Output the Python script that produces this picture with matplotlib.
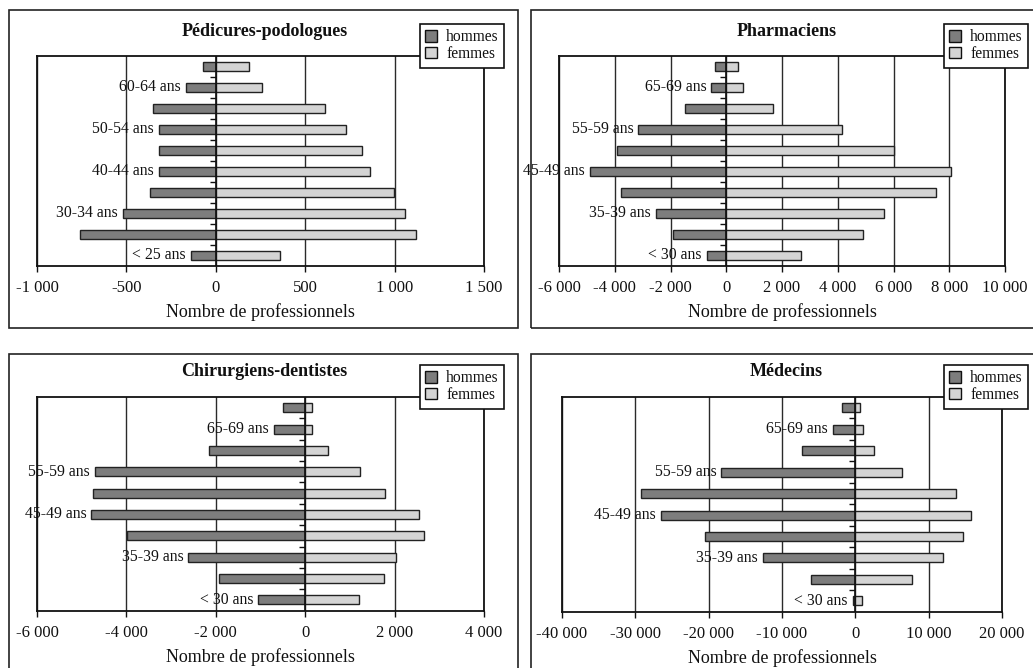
import matplotlib
matplotlib.use("Agg")
import matplotlib.pyplot as plt
from matplotlib.patches import Rectangle, Patch
from matplotlib.ticker import FuncFormatter
import numpy as np

plt.rcParams['font.family'] = ['Liberation Serif', 'DejaVu Serif']

# ---------------- data (bottom -> top) ----------------
pod_categories = ["< 25 ans", "25-29 ans", "30-34 ans", "35-39 ans", "40-44 ans",
                  "45-49 ans", "50-54 ans", "55-59 ans", "60-64 ans", "65 ans et +"]
pod_hommes = [141, 761, 521, 367, 318, 318, 318, 353, 169, 70]
pod_femmes = [357, 1120, 1058, 996, 861, 820, 727, 609, 257, 188]

other_categories = ["< 30 ans", "30-34 ans", "35-39 ans", "40-44 ans", "45-49 ans",
                    "50-54 ans", "55-59 ans", "60-64 ans", "65-69 ans", "70 ans et +"]
pha_hommes = [707, 1904, 2527, 3784, 4898, 3916, 3150, 1473, 539, 407]
pha_femmes = [2683, 4922, 5677, 7509, 8072, 6012, 4168, 1665, 587, 407]

den_hommes = [1056, 1925, 2614, 3985, 4787, 4757, 4704, 2142, 704, 502]
den_femmes = [1206, 1760, 2037, 2652, 2539, 1790, 1228, 509, 150, 150]

med_hommes = [362, 6063, 12579, 20498, 26516, 29231, 18281, 7240, 3032, 1855]
med_femmes = [860, 7738, 11946, 14615, 15792, 13756, 6380, 2534, 995, 679]

titles = ["Pédicures-podologues", "Pharmaciens", "Chirurgiens-dentistes", "Médecins"]
xlabel = "Nombre de professionnels"
legend_labels = ["hommes", "femmes"]

pod_ticks = [-1000, -500, 0, 500, 1000, 1500]
pha_ticks = [-6000, -4000, -2000, 0, 2000, 4000, 6000, 8000, 10000]
den_ticks = [-6000, -4000, -2000, 0, 2000, 4000]
med_ticks = [-40000, -30000, -20000, -10000, 0, 10000, 20000]

# ---------------- layout ----------------
W, H = 1033, 668
fig = plt.figure(figsize=(W / 100, H / 100), dpi=100)

def fx(x):
    return x / W

def fy(y):
    return 1 - y / H

C_MEN = '#7d7d7d'
C_WOMEN = '#d4d4d4'
C_EDGE = '#222222'
C_TEXT = '#111111'

panels = [
    dict(cats=pod_categories, men=pod_hommes, women=pod_femmes, ticks=pod_ticks,
         box=(37, 56, 484, 266), frame=(9, 10, 518, 328), title=titles[0]),
    dict(cats=other_categories, men=pha_hommes, women=pha_femmes, ticks=pha_ticks,
         box=(559, 56, 1005, 266), frame=(531, 10, 1040, 328), title=titles[1]),
    dict(cats=other_categories, men=den_hommes, women=den_femmes, ticks=den_ticks,
         box=(37, 397, 484, 611), frame=(9, 354, 518, 680), title=titles[2]),
    dict(cats=other_categories, men=med_hommes, women=med_femmes, ticks=med_ticks,
         box=(562, 397, 1002, 612), frame=(531, 354, 1040, 680), title=titles[3]),
]

def fmt(v, pos=None):
    s = "{:,}".format(int(abs(v))).replace(",", " ")
    return ("-" if v < 0 else "") + s

for p in panels:
    l, t, r, b = p['box']
    ax = fig.add_axes([fx(l), fy(b), fx(r - l), (b - t) / H])
    # outer frame
    fl, ft, fr, fb = p['frame']
    fig.patches.append(Rectangle((fx(fl), fy(fb)), fx(fr - fl), (fb - ft) / H,
                                 transform=fig.transFigure, fill=False,
                                 edgecolor='#222222', linewidth=1.2, zorder=0))
    n = len(p['cats'])
    y = np.arange(n)
    men = np.array(p['men'])
    women = np.array(p['women'])
    ax.barh(y, -men, height=0.42, color=C_MEN, edgecolor=C_EDGE, linewidth=1.0, zorder=3)
    ax.barh(y, women, height=0.42, color=C_WOMEN, edgecolor=C_EDGE, linewidth=1.0, zorder=3)
    ax.set_xlim(p['ticks'][0], p['ticks'][-1])
    ax.set_ylim(-0.52, n - 0.5)
    ax.set_xticks(p['ticks'])
    ax.xaxis.set_major_formatter(FuncFormatter(fmt))
    ax.set_yticks([])
    ax.grid(axis='x', color='#2a2a2a', linewidth=1.0, zorder=1)
    ax.set_axisbelow(True)
    ax.tick_params(axis='x', direction='out', length=4, width=1.0, pad=6,
                   labelsize=12, colors=C_TEXT)
    for s in ax.spines.values():
        s.set_color('#111111')
        s.set_linewidth(1.3)
    # zero axis with category ticks
    ax.axvline(0, color='#111111', linewidth=1.2, zorder=4)
    ax.plot(np.zeros(n - 1), np.arange(n - 1) + 0.5, linestyle='none', marker=0,
            markersize=4, color='#111111', markeredgewidth=1.0, zorder=4)
    # category labels (every other), placed left of the men's bar
    for i in range(0, n, 2):
        ax.annotate(p['cats'][i], xy=(-men[i], i), xytext=(-3.5, 0),
                    textcoords='offset points', ha='right', va='center',
                    fontsize=11.3, color=C_TEXT, zorder=5, annotation_clip=False)
    ax.set_xlabel(xlabel, fontsize=13, color=C_TEXT, labelpad=5)
    # title centred on the frame
    fig.text(fx((fl + min(fr, 1040)) / 2 + 1), fy(t - 25), p['title'],
             ha='center', va='center', fontsize=13, fontweight='bold', color=C_TEXT)
    # legend
    handles = [Patch(facecolor=C_MEN, edgecolor='#111111', linewidth=1.0),
               Patch(facecolor=C_WOMEN, edgecolor='#111111', linewidth=1.0)]
    if l < 500:
        anchor = (fx(504), fy(t - 32))
    else:
        anchor = (fx(1028), fy(t - 32))
    leg = fig.legend(handles, legend_labels, loc='upper right', bbox_to_anchor=anchor,
                     borderaxespad=0, fontsize=11.2, handlelength=0.75, handleheight=0.75,
                     handletextpad=0.6, borderpad=0.35, labelspacing=0.05,
                     fancybox=False, framealpha=1, edgecolor='#111111')
    leg.get_frame().set_linewidth(1.2)
    for txt in leg.get_texts():
        txt.set_color(C_TEXT)
    leg.set_zorder(10)

fig.savefig("out.png", dpi=100)
